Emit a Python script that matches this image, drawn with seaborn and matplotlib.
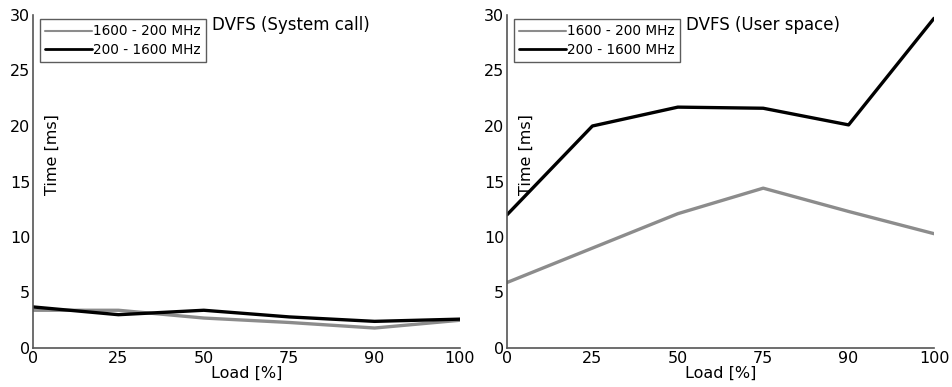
import matplotlib
matplotlib.use("Agg")
import matplotlib.pyplot as plt
import seaborn as sns
import pandas as pd

loads = ["0", "25", "50", "75", "90", "100"]
series_names = ["1600 - 200 MHz", "200 - 1600 MHz"]

syscall_down = [3.4, 3.4, 2.7, 2.3, 1.8, 2.5]
syscall_up = [3.7, 3.0, 3.4, 2.8, 2.4, 2.6]
userspace_down = [5.9, 9.0, 12.1, 14.4, 12.3, 10.3]
userspace_up = [12.0, 20.0, 21.7, 21.6, 20.1, 29.7]

panel_titles = ["DVFS (System call)", "DVFS (User space)"]

sns.set_theme(style="white")
plt.rcParams["font.family"] = ["DejaVu Sans"]
plt.rcParams["text.color"] = "black"
plt.rcParams["axes.labelcolor"] = "black"
plt.rcParams["xtick.color"] = "black"
plt.rcParams["ytick.color"] = "black"

colors = {series_names[0]: "#8c8c8c", series_names[1]: "#000000"}

fig = plt.figure(figsize=(9.52, 3.87), dpi=100)
ax_left = fig.add_axes([33 / 952, 1 - 348 / 387, 427 / 952, 333 / 387])
ax_right = fig.add_axes([507 / 952, 1 - 348 / 387, 427 / 952, 333 / 387])

panels = [
    (ax_left, syscall_down, syscall_up, panel_titles[0]),
    (ax_right, userspace_down, userspace_up, panel_titles[1]),
]

for ax, down, up, title in panels:
    df = pd.DataFrame({
        "pos": list(range(len(loads))) * 2,
        "time": down + up,
        "series": [series_names[0]] * len(loads) + [series_names[1]] * len(loads),
    })
    sns.lineplot(data=df, x="pos", y="time", hue="series", palette=colors,
                 linewidth=2.4, ax=ax, legend=False)
    ax.set_xlim(0, len(loads) - 1)
    ax.set_ylim(0, 30)
    ax.set_xticks(range(len(loads)))
    ax.set_xticklabels(loads)
    ax.set_yticks([0, 5, 10, 15, 20, 25, 30])
    ax.tick_params(axis="both", direction="in", length=4, width=1,
                   labelsize=11.5, pad=2)
    ax.tick_params(axis="both", which="both", color="#555555")
    for side in ["top", "right"]:
        ax.spines[side].set_visible(False)
    for side in ["left", "bottom"]:
        ax.spines[side].set_color("#555555")
        ax.spines[side].set_linewidth(1.2)
    ax.set_xlabel("Load [%]", fontsize=11.5, labelpad=0)
    ax.set_ylabel("")
    ax.text(0.045, 0.58, "Time [ms]", transform=ax.transAxes, rotation=90,
            ha="center", va="center", fontsize=11.5)
    ax.text(0.42, 0.97, title, transform=ax.transAxes, ha="left",
            va="center", fontsize=12)
    handles = [
        plt.Line2D([], [], color=colors[series_names[0]], linewidth=1.5),
        plt.Line2D([], [], color=colors[series_names[1]], linewidth=2.0),
    ]
    leg = ax.legend(handles, series_names, loc="upper left",
                    bbox_to_anchor=(0.016, 0.988), fontsize=9.8,
                    frameon=True, fancybox=False, borderpad=0.4,
                    handlelength=3.4, handletextpad=0.1, labelspacing=0.3,
                    borderaxespad=0.0)
    leg.get_frame().set_edgecolor("#333333")
    leg.get_frame().set_linewidth(1.0)

fig.savefig("out.png", dpi=100)
